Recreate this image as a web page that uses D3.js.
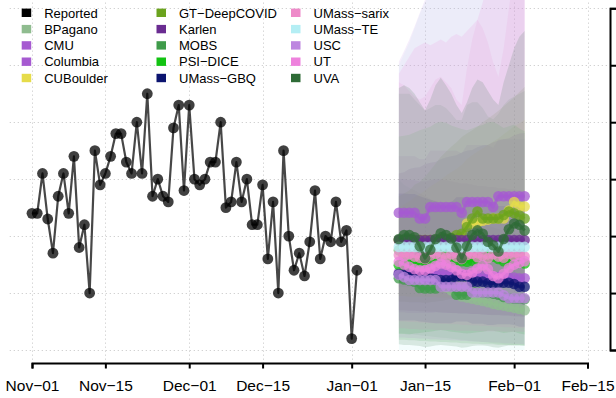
<!DOCTYPE html>
<html><head><meta charset="utf-8">
<script src="https://cdn.jsdelivr.net/npm/d3@7"></script>
<style>
html,body{margin:0;padding:0;background:#fff}
svg{display:block}
text{font-family:"Liberation Sans",Arial,Helvetica,sans-serif;fill:#000}
</style></head>
<body>
<svg id="chart" width="616" height="398"></svg>
<script>
// ---------------- data ----------------
const tickDates = ["2020-11-01","2020-11-15","2020-12-01","2020-12-15","2021-01-01","2021-01-15","2021-02-01","2021-02-15"];
const tickLabels = ["Nov\u221201","Nov\u221215","Dec\u221201","Dec\u221215","Jan\u221201","Jan\u221215","Feb\u221201","Feb\u221215"];
const yTicks = [0,10,20,30,40,50,60];

const reportedStart = "2020-11-01";
const reported = [24,24,31,23,17,27,31,24,34,18,22,10,35,29,31,34,38,38,33,31,40,31,45,27,30,27,26,39,43,28,43,30,29,30,33,33,40,25,26,33,26,30,22,22,29,16,26,10,35,20,14,17,13,19,28,16,20,19,26,19,21,2,14];

const forecastStart = "2021-01-10";
const modelNames = ["BPagano","CMU","Columbia","CUBoulder","GT\u2212DeepCOVID","Karlen","MOBS","PSI\u2212DICE","UMass\u2212GBQ","UMass\u2212sarix","UMass\u2212TE","USC","UT","UVA"];
const modelColors = ["#8fbc8f","#a65ad1","#a65ad1","#e6dc4a","#6ba31e","#6a2c91","#3f9b4a","#12c312","#0c1470","#ee8ac9","#b4eef4","#bd86e0","#ee82dd","#2e6b36"];

// medians
const BPagano_med  = [17.5,16.3,15.3,14.5,13.8,13.1,12.5,12.0,11.5,11.0,10.5,9.8,9.4,9.2,9.0,8.8,8.6,8.4,8.1,7.9,7.8,7.6,7.4,7.2,7.0];
const CMU_med      = [24.1,24.1,24.1,24.1,23.1,23.1,25.1,25.1,25.1,25.1,25.1,25.1,24.1,26.0,26.0,26.0,26.0,26.0,25.1,27.0,27.0,27.0,27.0,27.0,27.0];
const Columbia_med = [13.6,13.6,13.5,13.5,13.4,13.4,13.5,13.6,13.6,13.5,13.4,13.3,13.2,13.2,13.1,13.0,13.0,12.9,12.9,12.8,12.8,12.7,12.7,12.6,12.6];
const CUBoulder_med= [19.3,19.3,19.3,19.3,19.3,19.3,19.3,19.3,19.3,19.3,19.3,19.3,19.4,22.2,22.2,22.4,22.7,22.9,23.1,23.1,23.1,24.5,26.0,25.2,25.2];
const GT_med       = [19.3,19.3,19.3,19.3,19.3,19.3,19.3,19.3,19.4,19.5,19.7,20.2,20.4,21.6,23.1,24.3,23.1,23.1,23.1,23.1,23.7,24.3,24.0,23.6,23.1];
const Karlen_med   = [19.3,19.3,19.3,19.3,19.3,19.3,19.3,19.3,19.3,19.3,19.3,19.3,19.3,19.3,19.3,19.3,19.3,19.3,19.3,19.3,19.3,19.3,19.3,19.3,19.3];
const MOBS_med     = [12.6,12.4,12.2,12.0,10.9,10.8,10.8,10.8,11.2,11.3,11.2,9.7,9.7,9.7,10.3,10.2,10.1,10.0,9.9,9.7,9.3,9.1,9.0,9.0,8.9];
const PSI_med      = [14.9,14.9,14.9,15.3,15.6,15.8,16.0,16.4,16.6,16.4,16.0,15.8,15.6,15.5,15.7,15.9,16.0,16.4,16.4,16.0,15.6,15.8,16.0,15.5,15.2];
const GBQ_med      = [13.3,13.3,13.3,13.3,13.0,12.8,12.6,12.4,12.3,12.3,12.3,12.9,12.9,12.9,12.0,12.0,12.0,11.7,11.7,11.8,11.8,11.8,11.6,11.1,11.1];
const Sarix_med    = [16.7,16.5,16.9,16.4,16.2,16.0,16.6,16.9,16.5,16.2,16.8,16.4,16.0,16.7,16.9,16.3,16.6,16.1,16.8,16.4,16.2,16.9,16.5,16.7,16.4];
const TE_med       = [18.1,18.1,18.1,18.1,18.1,18.1,18.1,18.1,18.1,18.1,18.1,18.1,18.1,18.1,18.1,18.1,18.1,18.1,18.1,18.1,18.1,18.1,18.1,18.1,18.1];
const USC_med      = [13.2,12.8,12.3,12.3,12.3,12.3,12.3,12.3,11.1,11.1,11.1,11.1,11.1,11.1,10.1,10.1,10.1,10.1,10.1,10.1,9.6,9.1,9.1,9.1,9.1];
const UT_med       = [15.5,15.0,14.6,14.2,14.0,14.0,14.3,14.8,15.2,15.0,14.6,14.0,13.4,13.2,13.6,14.3,14.9,14.2,13.0,12.6,13.4,14.4,15.0,15.3,15.6];
const UVA_med      = [19.5,20.2,20.2,19.8,18.2,16.1,17.6,19.5,20.5,20.2,19.6,18.0,16.1,18.2,20.2,21.0,20.4,19.0,18.4,17.3,19.5,21.2,22.2,22.0,21.0];

// prediction interval bounds
const BPagano_lo  = [3.0,2.9,2.8,2.7,2.6,2.5,2.4,2.3,2.2,2.1,2.0,1.9,1.8,1.7,1.6,1.5,1.4,1.3,1.2,1.1,1.0,0.9,0.8,0.8,0.7];
const BPagano_hi  = [30.0,29.0,28.5,28.0,27.5,27.0,26.5,26.0,25.5,25.0,24.5,24.0,23.5,23.0,22.7,22.4,22.1,21.8,21.5,21.2,21.0,20.8,20.6,20.4,20.2];
const CMU_lo      = [11.0,11.0,11.0,11.0,10.5,10.5,11.5,11.5,11.5,11.5,11.5,11.5,11.0,12.0,12.0,12.0,12.0,12.0,11.5,12.5,12.5,12.5,12.5,12.5,12.5];
const CMU_hi      = [34.0,34.0,34.0,34.0,33.5,33.5,35.0,35.0,35.0,35.0,35.0,35.0,34.5,36.0,36.0,36.0,36.0,36.0,35.5,37.0,37.0,37.0,37.0,37.0,37.0];
const Columbia_lo = [6.6,6.6,6.5,6.5,6.5,6.5,6.5,6.6,6.6,6.5,6.5,6.4,6.4,6.4,6.3,6.3,6.3,6.2,6.2,6.2,6.2,6.1,6.1,6.0,6.0];
const Columbia_hi = [30.0,30.0,29.8,29.8,29.6,29.6,29.8,30.0,30.0,29.8,29.6,29.4,29.2,29.2,29.0,28.8,28.8,28.6,28.6,28.4,28.4,28.2,28.2,28.0,28.0];
const CUBoulder_lo= [9.5,9.5,9.4,9.4,9.4,9.3,9.3,9.3,9.2,9.2,9.2,9.2,9.3,11.0,11.2,11.3,11.5,11.6,11.7,11.7,11.8,12.2,12.9,12.6,12.6];
const CUBoulder_hi= [25.0,25.6,26.1,26.8,27.4,28.0,28.7,29.3,29.9,30.6,31.2,31.8,32.5,33.5,34.2,34.8,35.4,36.0,36.6,37.2,37.9,38.6,39.3,39.8,40.4];
const GT_lo       = [8.5,8.5,8.4,8.4,8.4,8.3,8.4,8.5,8.6,8.8,9.0,9.2,9.4,9.9,10.5,11.0,11.0,11.1,11.1,11.2,11.4,11.6,11.6,11.5,11.4];
const GT_hi       = [27.0,27.5,28.0,29.0,29.5,30.4,31.5,32.7,33.9,34.8,35.7,36.5,37.4,38.0,38.6,39.2,40.0,40.6,41.3,42.0,42.8,43.6,44.4,45.3,46.2];
const Karlen_lo   = [7.0,7.0,6.9,6.9,6.8,6.8,6.7,6.7,6.6,6.6,6.5,6.5,6.4,6.4,6.3,6.3,6.2,6.2,6.1,6.1,6.0,6.0,5.9,5.9,5.8];
const Karlen_hi   = [31.0,31.2,31.8,32.0,32.1,32.6,32.9,33.0,33.5,33.8,34.0,34.2,34.7,35.0,35.1,35.6,35.9,36.0,36.5,36.8,37.0,37.2,37.7,38.0,38.1];
const MOBS_lo     = [1.8,1.8,1.7,1.7,1.6,1.6,1.5,1.5,1.4,1.4,1.3,1.3,1.2,1.2,1.1,1.1,1.0,1.0,1.0,0.9,0.9,0.9,0.8,0.8,0.8];
const MOBS_hi     = [45.0,45.0,45.0,44.0,43.0,42.0,42.5,43.0,43.0,42.5,41.5,40.4,40.4,43.0,43.5,43.5,42.5,41.0,40.5,41.5,43.0,44.0,44.5,45.0,45.5];
const PSI_lo      = [2.8,2.8,2.7,2.9,3.0,3.1,3.2,3.4,3.5,3.4,3.2,3.1,3.0,2.9,3.0,3.1,3.2,3.4,3.4,3.2,3.0,3.1,3.2,2.9,2.7];
const PSI_hi      = [37.5,37.6,37.8,38.2,38.6,38.9,39.2,39.8,40.1,39.9,39.4,39.1,38.8,38.6,38.9,39.3,39.5,40.0,40.1,39.6,39.0,39.3,39.6,38.9,38.4];
const GBQ_lo      = [5.2,5.2,5.2,5.2,5.0,4.9,4.8,4.7,4.7,4.7,4.7,5.0,5.0,5.0,4.6,4.6,4.6,4.4,4.4,4.5,4.5,4.5,4.4,4.1,4.1];
const GBQ_hi      = [27.5,27.5,27.4,27.4,27.0,26.7,26.4,26.1,25.9,25.9,25.9,26.8,26.8,26.8,25.6,25.6,25.6,25.1,25.1,25.3,25.3,25.3,25.0,24.3,24.3];
const Sarix_lo    = [5.0,5.0,4.9,4.9,4.8,4.8,4.7,4.7,4.6,4.6,4.5,4.5,4.4,4.4,4.3,4.3,4.2,4.2,4.1,4.1,4.0,4.0,3.9,3.9,3.8];
const Sarix_hi    = [47.0,46.5,45.5,44.5,44.0,44.5,46.0,47.5,48.0,47.0,46.0,44.0,43.0,49.5,54.5,58.0,56.5,54.0,50.5,48.0,53.0,60.0,67.0,72.0,76.0];
const TE_lo       = [0.0,0.0,0.0,0.0,0.0,0.0,0.0,0.0,0.0,0.0,0.0,0.0,0.0,0.0,0.0,0.0,0.0,0.0,0.0,0.0,0.0,0.0,0.0,0.0,0.0];
const TE_hi       = [50.0,52.0,54.0,56.5,59.0,61.0,63.0,64.5,66.0,67.0,68.0,69.0,70.0,71.0,72.0,73.0,74.0,75.0,76.0,77.0,78.0,79.0,80.0,81.0,82.0];
const USC_lo      = [2.2,2.2,2.1,2.1,2.0,2.0,1.9,1.9,1.8,1.8,1.7,1.7,1.6,1.6,1.5,1.5,1.4,1.4,1.3,1.3,1.2,1.2,1.1,1.1,1.0];
const USC_hi      = [50.6,52.5,54.5,56.8,59.2,61.5,63.5,65.0,66.5,67.5,68.5,69.5,70.5,71.5,72.5,73.5,74.5,75.5,76.5,77.5,78.5,79.5,80.5,81.5,82.5];
const UT_lo       = [3.8,3.8,3.7,3.7,3.6,3.6,3.6,3.5,3.5,3.5,3.5,3.4,3.4,3.4,3.4,3.3,3.3,3.3,3.3,3.3,3.2,3.2,3.2,3.2,3.2];
const UT_hi       = [48.5,50.0,51.5,53.0,53.5,54.0,53.5,54.0,54.5,54.0,55.0,55.5,55.0,56.0,57.0,58.0,61.0,65.0,68.0,70.0,72.0,74.0,76.0,78.0,80.0];
const UVA_lo      = [1.0,0.9,0.9,0.8,0.7,0.5,0.6,0.8,0.9,0.8,0.7,0.6,0.4,0.5,0.7,0.8,0.8,0.7,0.5,0.4,0.6,0.8,0.9,0.9,0.8];
const UVA_hi      = [46.0,46.5,46.0,45.0,43.5,42.1,44.0,46.5,47.8,46.5,45.0,43.0,41.6,43.5,46.0,47.5,47.0,45.5,44.0,43.0,47.0,50.0,53.0,55.0,56.0];

const medians = [BPagano_med,CMU_med,Columbia_med,CUBoulder_med,GT_med,Karlen_med,MOBS_med,PSI_med,GBQ_med,Sarix_med,TE_med,USC_med,UT_med,UVA_med];
const lows    = [BPagano_lo,CMU_lo,Columbia_lo,CUBoulder_lo,GT_lo,Karlen_lo,MOBS_lo,PSI_lo,GBQ_lo,Sarix_lo,TE_lo,USC_lo,UT_lo,UVA_lo];
const highs   = [BPagano_hi,CMU_hi,Columbia_hi,CUBoulder_hi,GT_hi,Karlen_hi,MOBS_hi,PSI_hi,GBQ_hi,Sarix_hi,TE_hi,USC_hi,UT_hi,UVA_hi];

// ---------------- chart ----------------
const svg = d3.select("#chart");
const parse = d3.utcParse("%Y-%m-%d");
const tDates = tickDates.map(parse);

const x = d3.scaleUtc().domain([tDates[0], tDates[tDates.length-1]]).range([32, 587.5]);
const y = d3.scaleLinear().domain([0, 60]).range([350, 8.3]);
const xpad = (x.range()[1]-x.range()[0])*0.04;
const ypad = (y.range()[0]-y.range()[1])*0.04;
const plotL = x.range()[0]-xpad, plotR = x.range()[1]+xpad;
const plotT = y.range()[1]-ypad, plotB = y.range()[0]+ypad;

svg.append("defs").append("clipPath").attr("id","plotclip")
  .append("rect").attr("x",plotL).attr("y",plotT).attr("width",plotR-plotL).attr("height",plotB-plotT);

// grid
const grid = svg.append("g").attr("stroke","#c4c4c4").attr("stroke-width",1).attr("stroke-dasharray","1,3");
grid.selectAll("line.v").data(tDates).join("line").attr("class","v")
  .attr("x1",d=>Math.round(x(d))+0.5).attr("x2",d=>Math.round(x(d))+0.5).attr("y1",plotT).attr("y2",plotB);
grid.selectAll("line.h").data(yTicks).join("line").attr("class","h")
  .attr("x1",plotL).attr("x2",plotR).attr("y1",d=>Math.round(y(d))+0.5).attr("y2",d=>Math.round(y(d))+0.5);

// reported
const repDates = reported.map((v,i)=>d3.utcDay.offset(parse(reportedStart), i));
const repPts = reported.map((v,i)=>({date:repDates[i], v}));
const line = d3.line().x(d=>x(d.date)).y(d=>y(d.v));
svg.append("path").datum(repPts).attr("d",line).attr("fill","none")
  .attr("stroke","#000").attr("stroke-opacity",0.72).attr("stroke-width",2.2).attr("stroke-linejoin","round");
svg.append("g").selectAll("circle").data(repPts).join("circle")
  .attr("cx",d=>x(d.date)).attr("cy",d=>y(d.v)).attr("r",5.4)
  .attr("fill","#000").attr("fill-opacity",0.75);

// forecasts
const fcDates = medians[0].map((v,i)=>d3.utcDay.offset(parse(forecastStart), i));
const fc = svg.append("g").attr("clip-path","url(#plotclip)");
const area = d3.area().x(d=>x(d.date)).y0(d=>y(d.lo)).y1(d=>y(d.hi));
modelNames.forEach((name,m)=>{
  const pts = fcDates.map((dt,i)=>({date:dt, lo:lows[m][i], hi:highs[m][i]}));
  fc.append("path").datum(pts).attr("d",area).attr("fill",modelColors[m]).attr("fill-opacity",0.14);
});
modelNames.forEach((name,m)=>{
  const pts = fcDates.map((dt,i)=>({date:dt, v:medians[m][i]}));
  const g = fc.append("g");
  g.append("path").datum(pts).attr("d",line).attr("fill","none")
    .attr("stroke",modelColors[m]).attr("stroke-opacity",0.75).attr("stroke-width",3).attr("stroke-linejoin","round");
  g.selectAll("circle").data(pts).join("circle")
    .attr("cx",d=>x(d.date)).attr("cy",d=>y(d.v)).attr("r",5.3)
    .attr("fill",modelColors[m]).attr("fill-opacity",0.75);
});

// x axis
const xAxis = d3.axisBottom(x).tickValues(tDates).tickFormat((d,i)=>tickLabels[i]).tickSizeOuter(0).tickSize(5.5).tickPadding(11);
const gx = svg.append("g").attr("transform",`translate(0,${Math.round(plotB)-1})`).call(xAxis);
gx.select(".domain").attr("stroke","#000").attr("stroke-width",2);
gx.selectAll(".tick line").attr("stroke","#000").attr("stroke-width",2);
gx.selectAll(".tick text").attr("font-size","15.5px").attr("font-family",'"Liberation Sans",Arial,sans-serif').attr("fill","#000");

// right axis (labels fall outside the visible area)
const yAxis = d3.axisRight(y).tickValues(yTicks).tickSize(7).tickSizeOuter(7).tickFormat("");
const gy = svg.append("g").attr("transform",`translate(${Math.round(plotR)},0)`).call(yAxis);
gy.select(".domain").attr("stroke","#000").attr("stroke-width",2);
gy.selectAll(".tick line").attr("stroke","#000").attr("stroke-width",2);

// legend
const legNames = ["Reported"].concat(modelNames);
const legColors = ["#000000"].concat(modelColors);
const colX = [21.7, 156.5, 291];
const rowY = [12.8, 29.1, 45.4, 61.7, 78.0];
const leg = svg.append("g");
legNames.forEach((n,i)=>{
  const c = Math.floor(i/5), r = i%5;
  leg.append("rect").attr("x",colX[c]).attr("y",rowY[r]-4.2).attr("width",9.5).attr("height",8.4).attr("fill",legColors[i]);
  leg.append("text").attr("x",colX[c]+22.5).attr("y",rowY[r]+4.7).attr("font-size","13px").text(n);
});
</script>
</body></html>
